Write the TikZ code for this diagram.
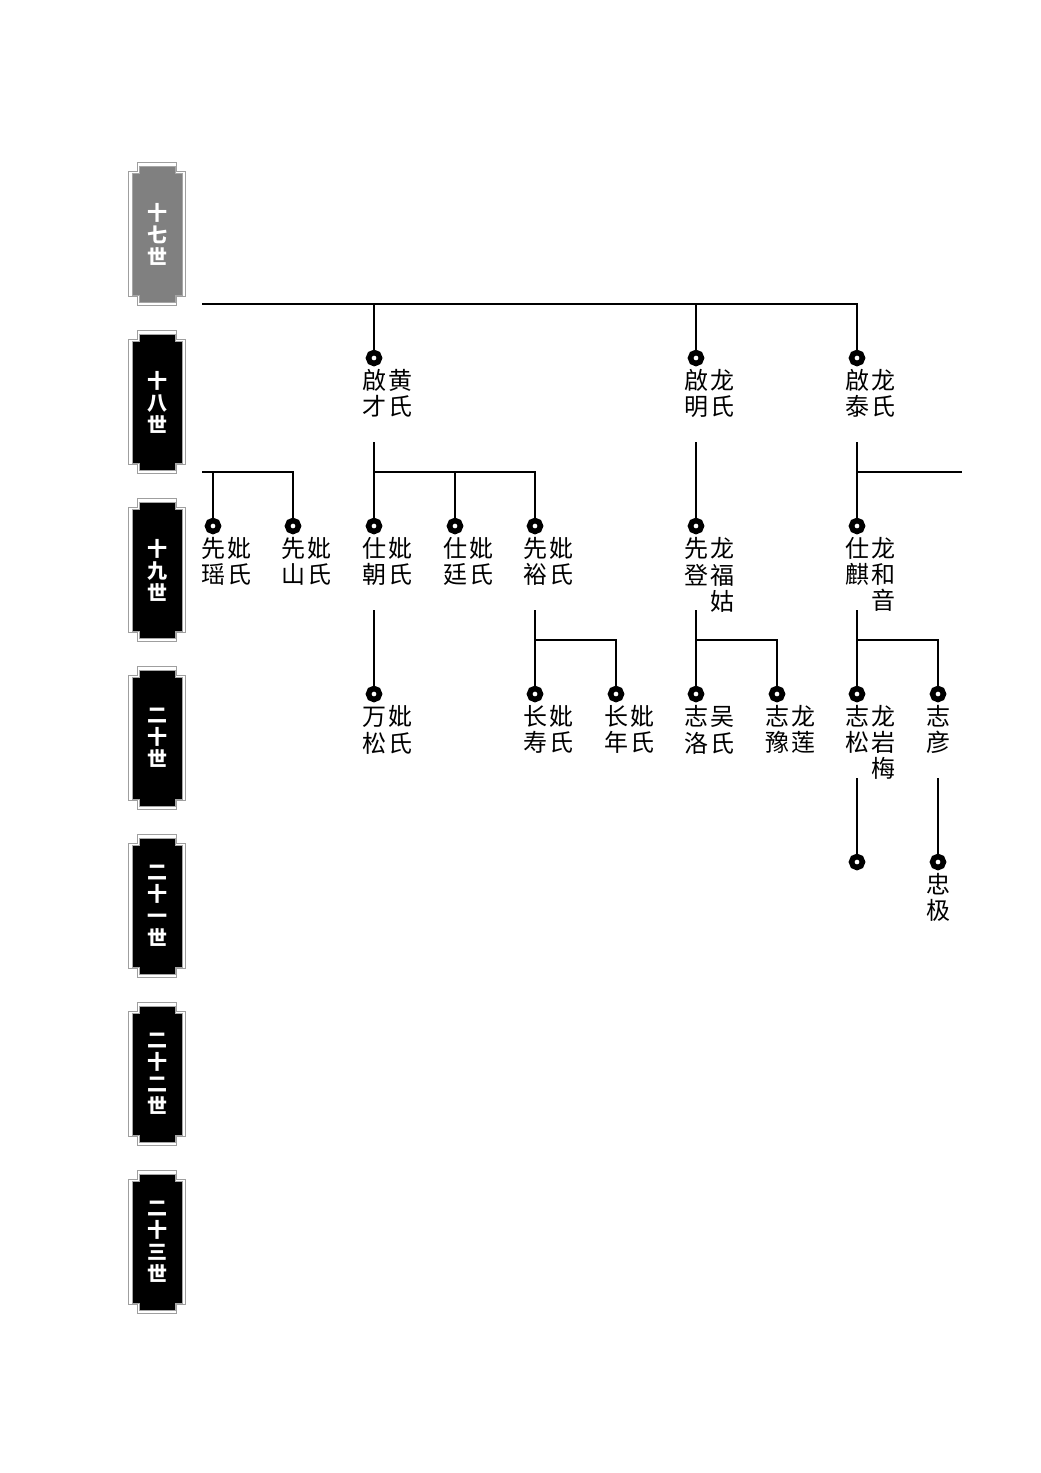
\documentclass[tikz,border=0pt]{standalone}
\usepackage{fontspec}
\newfontfamily\cjk{Noto Sans CJK SC}
\usetikzlibrary{matrix, positioning}

% notched frame: centre x, centre y, half width, half height, notch
\newcommand{\genframe}[5]{(#1-#3+#5,#2-#4) -- (#1+#3-#5,#2-#4) -- (#1+#3-#5,#2-#4+#5) -- (#1+#3,#2-#4+#5) -- (#1+#3,#2+#4-#5) -- (#1+#3-#5,#2+#4-#5) -- (#1+#3-#5,#2+#4) -- (#1-#3+#5,#2+#4) -- (#1-#3+#5,#2+#4-#5) -- (#1-#3,#2+#4-#5) -- (#1-#3,#2-#4+#5) -- (#1-#3+#5,#2-#4+#5) -- cycle}

\begin{document}
\begin{tikzpicture}[
  x=1pt, y=-1pt,
  dot/.style={circle, draw=black, fill=white, line width=5.5pt, minimum size=11pt, inner sep=0pt},
  names/.style={matrix of nodes, anchor=north west, inner sep=0pt,
    nodes={minimum width=26pt, minimum height=26pt, inner sep=0pt, font=\cjk\fontsize{24}{26}\selectfont}},
  link/.style={line width=1.8pt},
  gentext/.style={text=white, align=center, font=\cjk\bfseries\fontsize{20}{22}\selectfont}
]
\useasboundingbox (0,0) rectangle (1041,1473);

% generation tablets
\foreach \g/\c [count=\i from 0] in {十\\七\\世/gray, 十\\八\\世/black, 十\\九\\世/black,
    二\\十\\世/black, 二\\十\\一\\世/black, 二\\十\\二\\世/black, 二\\十\\三\\世/black} {
  \pgfmathsetmacro{\gy}{234+168*\i}
  \draw[gray!75, line width=1.2pt] \genframe{157}{\gy}{28.5}{71.5}{9};
  \path[fill=\c, draw=gray!70, line width=1pt] \genframe{157}{\gy}{25}{68}{7};
  \node[gentext] (gen\i) at (157,\gy) {\g};
}

% generation 18
\node[dot] (qc) at (374,358) {};
\node[dot] (qm) at (696,358) {};
\node[dot] (qt) at (857,358) {};
\matrix[names] (qcn) at ([xshift=-13pt,yshift=-1pt]qc.south) {啟 & 黄\\ 才 & 氏\\};
\matrix[names] (qmn) at ([xshift=-13pt,yshift=-1pt]qm.south) {啟 & 龙\\ 明 & 氏\\};
\matrix[names] (qtn) at ([xshift=-13pt,yshift=-1pt]qt.south) {啟 & 龙\\ 泰 & 氏\\};

% generation 19
\node[dot] (xy)  at (213,526) {};
\node[dot] (xs)  at (293,526) {};
\node[dot] (sz)  at (374,526) {};
\node[dot] (st)  at (455,526) {};
\node[dot] (xyu) at (535,526) {};
\node[dot] (xd)  at (696,526) {};
\node[dot] (sq)  at (857,526) {};
\matrix[names] (xyn)  at ([xshift=-13pt,yshift=-1pt]xy.south)  {先 & 妣\\ 瑶 & 氏\\};
\matrix[names] (xsn)  at ([xshift=-13pt,yshift=-1pt]xs.south)  {先 & 妣\\ 山 & 氏\\};
\matrix[names] (szn)  at ([xshift=-13pt,yshift=-1pt]sz.south)  {仕 & 妣\\ 朝 & 氏\\};
\matrix[names] (stn)  at ([xshift=-13pt,yshift=-1pt]st.south)  {仕 & 妣\\ 廷 & 氏\\};
\matrix[names] (xyun) at ([xshift=-13pt,yshift=-1pt]xyu.south) {先 & 妣\\ 裕 & 氏\\};
\matrix[names] (xdn)  at ([xshift=-13pt,yshift=-1pt]xd.south)  {先 & 龙\\ 登 & 福\\ & 姑\\};
\matrix[names] (sqn)  at ([xshift=-13pt,yshift=-1pt]sq.south)  {仕 & 龙\\ 麒 & 和\\ & 音\\};

% generation 20
\node[dot] (ws)   at (374,694) {};
\node[dot] (cs)   at (535,694) {};
\node[dot] (cn)   at (616,694) {};
\node[dot] (zl)   at (696,694) {};
\node[dot] (zy)   at (777,694) {};
\node[dot] (zs)   at (857,694) {};
\node[dot] (zyan) at (938,694) {};
\matrix[names] (wsn)   at ([xshift=-13pt,yshift=-1pt]ws.south)   {万 & 妣\\ 松 & 氏\\};
\matrix[names] (csn)   at ([xshift=-13pt,yshift=-1pt]cs.south)   {长 & 妣\\ 寿 & 氏\\};
\matrix[names] (cnn)   at ([xshift=-13pt,yshift=-1pt]cn.south)   {长 & 妣\\ 年 & 氏\\};
\matrix[names] (zln)   at ([xshift=-13pt,yshift=-1pt]zl.south)   {志 & 吴\\ 洛 & 氏\\};
\matrix[names] (zyn)   at ([xshift=-13pt,yshift=-1pt]zy.south)   {志 & 龙\\ 豫 & 莲\\};
\matrix[names] (zsn)   at ([xshift=-13pt,yshift=-1pt]zs.south)   {志 & 龙\\ 松 & 岩\\ & 梅\\};
\matrix[names] (zyann) at ([xshift=-13pt,yshift=-1pt]zyan.south) {志\\ 彦\\};

% generation 21
\node[dot] (zsc) at (857,862) {};
\node[dot] (zj)  at (938,862) {};
\matrix[names] (zjn) at ([xshift=-13pt,yshift=-1pt]zj.south) {忠\\ 极\\};

% connectors
\coordinate (top) at (202,304);
\coordinate (lft) at (202,472);
\coordinate (rgt) at (962,472);
\draw[link] (top) -| (qc);
\draw[link] (top) -| (qm);
\draw[link] (top) -| (qt);
\draw[link] (lft) -| (xy);
\draw[link] (lft) -| (xs);

\draw[link] ([yshift=-84pt]qc.center) -- (sz);
\draw[link] ([yshift=-114pt]qc.center) -| (st);
\draw[link] ([yshift=-114pt]qc.center) -| (xyu);
\draw[link] ([yshift=-84pt]qm.center) -- (xd);
\draw[link] ([yshift=-84pt]qt.center) -- (sq);
\draw[link] ([yshift=-114pt]qt.center) -- (rgt);

\draw[link] ([yshift=-84pt]sz.center) -- (ws);
\draw[link] ([yshift=-84pt]xyu.center) -- (cs);
\draw[link] ([yshift=-114pt]xyu.center) -| (cn);
\draw[link] ([yshift=-84pt]xd.center) -- (zl);
\draw[link] ([yshift=-114pt]xd.center) -| (zy);
\draw[link] ([yshift=-84pt]sq.center) -- (zs);
\draw[link] ([yshift=-114pt]sq.center) -| (zyan);

\draw[link] ([yshift=-84pt]zs.center) -- (zsc);
\draw[link] ([yshift=-84pt]zyan.center) -- (zj);
\end{tikzpicture}
\end{document}
